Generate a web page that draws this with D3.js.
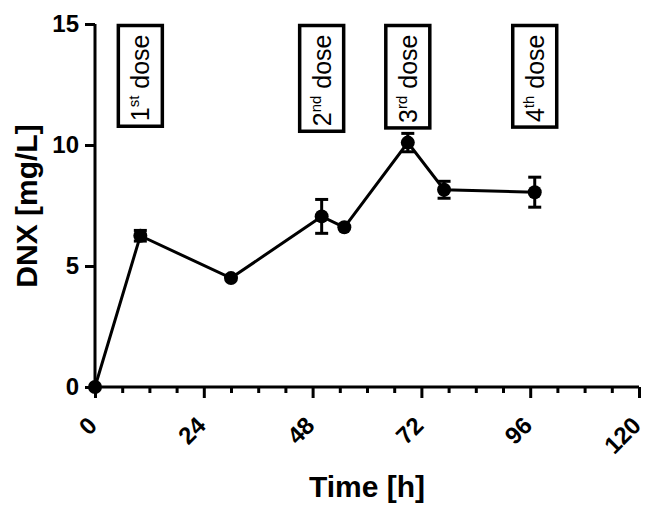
<!DOCTYPE html>
<html><head><meta charset="utf-8">
<script src="https://cdn.jsdelivr.net/npm/d3@7"></script>
<style>body{margin:0;background:#fff}svg{display:block}text{font-family:Arial,"Liberation Sans",Helvetica,sans-serif}</style>
</head><body>
<script>
// Data
const times = [0, 10, 30, 50, 55, 69, 77, 97];
const dnx   = [0, 6.25, 4.5, 7.05, 6.6, 10.1, 8.15, 8.05];
const errs  = [0, 0.22, 0.0, 0.7, 0.0, 0.38, 0.35, 0.62];
const doseTimes = [10, 50, 69, 97];
const doseNums = ["1", "2", "3", "4"];
const doseSups = ["st", "nd", "rd", "th"];
const xTicks = [0, 24, 48, 72, 96, 120];
const yTicks = [0, 5, 10, 15];

const W = 646, H = 505;
const svg = d3.select("body").append("svg").attr("width", W).attr("height", H);
const x = d3.scaleLinear().domain([0, 120]).range([95, 639]);
const y = d3.scaleLinear().domain([0, 15]).range([387, 24]);

// X axis
const xAxis = svg.append("g").attr("transform", `translate(0,${y(0)})`)
  .call(d3.axisBottom(x).tickValues(d3.range(0, 121, 6)).tickSize(10).tickFormat(""));
xAxis.select(".domain").attr("stroke", "#000").attr("stroke-width", 3).attr("d", `M${x(0)},0H${x(120)}`);
xAxis.selectAll(".tick line").attr("stroke", "#000").attr("stroke-width", 3)
  .attr("y2", d => xTicks.includes(d) ? 11 : 6);
xAxis.selectAll(".tick").filter(d => xTicks.includes(d)).append("text")
  .attr("transform", "translate(-3,34) rotate(-45)")
  .attr("text-anchor", "end").attr("dy", "0.35em")
  .attr("fill", "#000").attr("font-size", 24).attr("font-weight", "bold")
  .text(d => d);

// Y axis
const yAxis = svg.append("g").attr("transform", `translate(${x(0)},0)`)
  .call(d3.axisLeft(y).tickValues(yTicks).tickSize(10).tickPadding(6));
yAxis.select(".domain").attr("stroke", "#000").attr("stroke-width", 3).attr("d", `M0,${y(0)}V${y(15)}`);
yAxis.selectAll(".tick line").attr("stroke", "#000").attr("stroke-width", 3);
yAxis.selectAll(".tick text").attr("fill", "#000").attr("font-size", 24).attr("font-weight", "bold")
  .attr("font-family", "Arial, 'Liberation Sans', sans-serif");

// Axis titles
svg.append("text").attr("x", x(60)).attr("y", 497).attr("text-anchor", "middle")
  .attr("font-size", 30).attr("font-weight", "bold").text("Time [h]");
svg.append("text").attr("transform", `translate(37,${206}) rotate(-90)`).attr("text-anchor", "middle")
  .attr("font-size", 30).attr("font-weight", "bold").text("DNX [mg/L]");

// Line
const pts = times.map((t, i) => ({t, v: dnx[i], e: errs[i]}));
svg.append("path").datum(pts)
  .attr("fill", "none").attr("stroke", "#000").attr("stroke-width", 3)
  .attr("d", d3.line().x(d => x(d.t)).y(d => y(d.v)));

// Error bars
const eb = svg.append("g").attr("stroke", "#000").attr("stroke-width", 3);
pts.filter(d => d.e > 0).forEach(d => {
  eb.append("line").attr("x1", x(d.t)).attr("x2", x(d.t)).attr("y1", y(d.v - d.e)).attr("y2", y(d.v + d.e));
  [d.v - d.e, d.v + d.e].forEach(v => eb.append("line")
    .attr("x1", x(d.t) - 6.5).attr("x2", x(d.t) + 6.5).attr("y1", y(v)).attr("y2", y(v)));
});

// Markers
svg.append("g").selectAll("circle").data(pts).join("circle")
  .attr("cx", d => x(d.t)).attr("cy", d => y(d.v)).attr("r", 7).attr("fill", "#000");

// Dose boxes
doseTimes.forEach((t, i) => {
  const g = svg.append("g");
  const rect = g.append("rect").attr("fill", "#fff").attr("stroke", "#000").attr("stroke-width", 3.5);
  const txt = g.append("text").attr("font-size", 25).attr("fill", "#000");
  txt.append("tspan").text(doseNums[i]);
  txt.append("tspan").attr("font-size", 15).attr("dy", -10).text(doseSups[i]);
  txt.append("tspan").attr("dy", 10).text(" dose");
  const len = txt.node().getComputedTextLength();
  const top = y(15) + 1.5, h = len + 14, w = 44;
  rect.attr("x", x(t) - w / 2).attr("y", top).attr("width", w).attr("height", h);
  txt.attr("transform", `translate(${x(t) + 9},${top + h / 2 + 2}) rotate(-90)`)
    .attr("text-anchor", "middle");
});
</script>
</body></html>
